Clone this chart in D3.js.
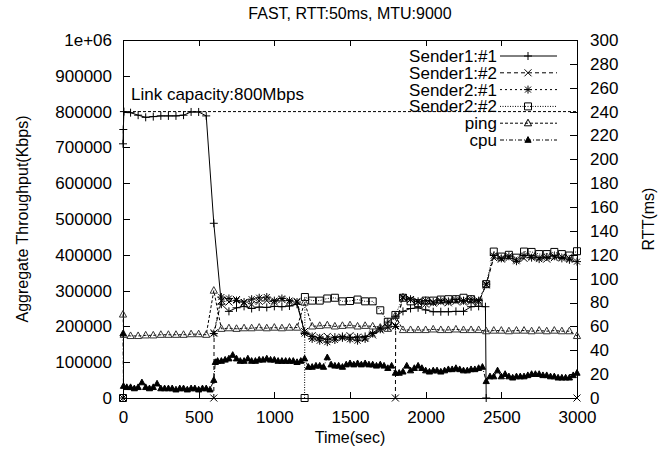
<!DOCTYPE html>
<html>
<head>
<meta charset="utf-8">
<script src="https://cdn.jsdelivr.net/npm/d3@7"></script>
<style>
  body { margin: 0; background: #fff; }
  svg { display: block; font-family: "Liberation Sans", Arial, sans-serif; }
  text { fill: #000; }
</style>
</head>
<body>
<svg id="chart" width="667" height="453"></svg>
<script>
// values; null = break in the data (no connecting line)
var sender11 = [[0,710000],[2,750000],[6,800000],[50,797000],[100,790000],[150,784000],[200,786000],[250,788000],[300,788000],[350,788000],[400,790000],[450,799000],[500,799000],[550,788000],[600,488000],[650,262000],[700,242000],[750,252000],[800,256000],[850,250000],[900,254000],[950,253000],[1000,256000],[1050,255000],[1100,257000],[1150,262000],[1200,184000],[1250,172000],[1300,168000],[1350,164000],[1400,170000],[1450,172000],[1500,168000],[1550,170000],[1600,172000],[1650,182000],[1700,195000],[1750,212000],[1800,228000],[1850,242000],[1900,250000],[1950,252000],[2000,246000],[2050,241000],[2100,241000],[2150,241000],[2200,242000],[2250,242000],[2300,255000],[2350,256000],[2395,255000],[2400,0]];
var sender12 = [[600,0],[602,182000],[650,272000],[700,268000],[750,275000],[800,266000],[850,262000],[900,270000],[950,272000],[1000,268000],[1050,275000],[1100,268000],[1150,270000],[1200,186000],[1250,174000],[1300,170000],[1350,172000],[1400,168000],[1450,170000],[1500,174000],[1550,170000],[1600,168000],[1650,176000],[1700,190000],[1750,198000],null,[1800,0],[1802,202000],[1850,280000],[1900,275000],[1950,268000],[2000,262000],[2050,265000],[2100,268000],[2150,266000],[2200,270000],[2250,268000],[2300,270000],[2350,268000],[2400,316000],[2450,392000],[2500,388000],[2550,392000],[2600,386000],[2650,390000],[2700,396000],[2750,392000],[2800,388000],[2850,392000],[2900,394000],[2950,390000],null,[3000,0]];
var sender21 = [[0,0],null,[600,180000],[650,282000],[700,278000],[750,272000],[800,268000],[850,276000],[900,280000],[950,282000],[1000,272000],[1050,278000],[1100,272000],[1150,268000],[1200,180000],[1250,165000],[1300,160000],[1350,156000],[1400,162000],[1450,168000],[1500,164000],[1550,160000],[1600,165000],[1650,180000],[1700,192000],[1750,198000],[1800,200000],[1850,282000],[1900,276000],[1950,270000],[2000,272000],[2050,268000],[2100,272000],[2150,270000],[2200,275000],[2250,272000],[2300,276000],[2350,272000],[2400,318000],[2450,398000],[2500,390000],[2550,396000],[2600,382000],[2650,398000],[2700,392000],[2750,388000],[2800,394000],[2850,396000],[2900,390000],[2950,386000],[3000,381000]];
var sender22 = [[0,0],null,[1200,0],[1202,282000],[1250,272000],[1300,272000],[1350,278000],[1400,280000],[1450,270000],[1500,271000],[1550,275000],[1600,270000],[1650,270000],[1700,245000],[1750,213000],[1800,232000],[1850,280000],[1900,270000],[1950,265000],[2000,272000],[2050,272000],[2100,275000],[2150,276000],[2200,276000],[2250,280000],[2300,276000],[2350,266000],[2400,318000],[2450,409000],[2500,395000],[2550,400000],[2600,392000],[2650,409000],[2700,408000],[2750,402000],[2800,402000],[2850,408000],[2900,402000],[2950,398000],[3000,410000]];
// RTT axis (ms)
var ping = [[0,70],[5,53],[50,52],[100,52],[150,52.5],[200,52.5],[250,53],[300,53],[350,53],[400,53],[450,53.5],[500,53.5],[550,53],[600,90],[650,58],[700,58.5],[750,58],[800,58.5],[850,58.5],[900,59],[950,58.5],[1000,59],[1050,58.5],[1100,59],[1150,59],[1200,80],[1250,60],[1300,60.5],[1350,61],[1400,60],[1450,60.5],[1500,61],[1550,60],[1600,60.5],[1650,60],[1700,59],[1750,58],[1800,69],[1850,57],[1900,57],[1950,57],[2000,57],[2050,57.5],[2100,57],[2150,57],[2200,57.5],[2250,57],[2300,57],[2350,57],[2400,56],[2450,56.5],[2500,56.5],[2550,56],[2600,56.5],[2650,56.5],[2700,56],[2750,56.5],[2800,56],[2850,56.5],[2900,56],[2950,56],[3000,52]];
var cpu = [[0,54],[3,10],[25,9],[50,9],[75,8],[100,9],[125,13],[150,9],[175,8],[200,9],[225,12],[250,8],[275,8],[300,8],[325,8],[350,7],[375,8],[400,8],[425,7],[450,8],[475,8],[500,7],[525,8],[550,8],[575,7],[600,15],[610,30],[625,31],[650,31],[675,32],[700,33],[725,36],[750,33],[775,31],[800,31],[825,33],[850,31],[875,31],[900,32],[925,32],[950,33],[975,32],[1000,32],[1025,31],[1050,31],[1075,31],[1100,31],[1125,31],[1150,30],[1175,31],[1200,33],[1225,26],[1250,26],[1275,27],[1300,27],[1325,26],[1350,34],[1375,28],[1400,27],[1425,27],[1450,26],[1475,28],[1500,29],[1525,28],[1550,29],[1575,28],[1600,29],[1625,28],[1650,28],[1675,27],[1700,28],[1725,27],[1750,25],[1775,27],[1800,21],[1825,21],[1850,22],[1875,27],[1900,23],[1925,25],[1950,27],[1975,25],[2000,23],[2025,22],[2050,23],[2075,23],[2100,22],[2125,23],[2150,24],[2175,24],[2200,25],[2225,24],[2250,23],[2275,23],[2300,24],[2325,24],[2350,25],[2375,26],[2400,14],[2425,18],[2450,18],[2475,23],[2500,18],[2525,20],[2550,18],[2575,17],[2600,18],[2625,18],[2650,18],[2675,19],[2700,20],[2725,20],[2750,20],[2775,19],[2800,19],[2825,18],[2850,18],[2875,17],[2900,17],[2925,17],[2950,17],[2975,19],[3000,21]];

var linkCapacity = 800000;
var xTicks = [0, 500, 1000, 1500, 2000, 2500, 3000];
var yTicks = [0, 100000, 200000, 300000, 400000, 500000, 600000, 700000, 800000, 900000, 1000000];
var y2Ticks = [0, 20, 40, 60, 80, 100, 120, 140, 160, 180, 200, 220, 240, 260, 280, 300];

(function() {
  var svg = d3.select('#chart');
  var pl = 123, pr = 577, pt = 40, pb = 398;
  var fs = 17;

  var x = d3.scaleLinear().domain([0, 3000]).range([pl, pr]);
  var y = d3.scaleLinear().domain([0, 1000000]).range([pb, pt]);
  var y2 = d3.scaleLinear().domain([0, 300]).range([pb, pt]);

  // marker shapes (gnuplot style)
  var marks = {
    plus: 'M-4,0H4M0,-4V4',
    cross: 'M-3.5,-3.5L3.5,3.5M-3.5,3.5L3.5,-3.5',
    star: 'M-4,0H4M0,-4V4M-3,-3L3,3M-3,3L3,-3',
    box: 'M-3.5,-3.5H3.5V3.5H-3.5Z',
    tri: 'M0,-4L3.6,2.6H-3.6Z',
    ftri: 'M0,-3.4L3.1,2.3H-3.1Z'
  };

  var series = [
    { name: 'Sender1:#1', data: sender11, axis: y, dash: null, mark: 'plus' },
    { name: 'Sender1:#2', data: sender12, axis: y, dash: '4,3', mark: 'cross' },
    { name: 'Sender2:#1', data: sender21, axis: y, dash: '2,3', mark: 'star' },
    { name: 'Sender2:#2', data: sender22, axis: y, dash: '1,1.5', mark: 'box' },
    { name: 'ping', data: ping, axis: y2, dash: '3,2', mark: 'tri' },
    { name: 'cpu', data: cpu, axis: y2, dash: '4,2,1,2', mark: 'ftri' }
  ];

  // axes (ticks point inward, like gnuplot)
  svg.append('g')
    .attr('transform', 'translate(' + pl + ',0)')
    .call(d3.axisLeft(y).tickValues(yTicks).tickSize(-7).tickSizeOuter(0).tickPadding(11)
      .tickFormat(function(d) { return d === 1000000 ? '1e+06' : String(d); }));
  svg.append('g')
    .attr('transform', 'translate(' + pr + ',0)')
    .call(d3.axisRight(y2).tickValues(y2Ticks).tickSize(-7).tickSizeOuter(0).tickPadding(13)
      .tickFormat(String));
  svg.append('g')
    .attr('transform', 'translate(0,' + pb + ')')
    .call(d3.axisBottom(x).tickValues(xTicks).tickSize(-6).tickSizeOuter(0).tickPadding(13)
      .tickFormat(String));
  svg.append('g')
    .attr('transform', 'translate(0,' + pt + ')')
    .call(d3.axisTop(x).tickValues(xTicks).tickSize(-6).tickSizeOuter(0).tickFormat(''));

  svg.selectAll('.domain').remove();
  svg.selectAll('.tick line').attr('stroke', '#000').attr('shape-rendering', 'crispEdges');
  svg.selectAll('.tick text').attr('font-size', fs).attr('font-family', '"Liberation Sans", Arial, sans-serif').attr('fill', '#000');

  svg.append('rect')
    .attr('x', pl).attr('y', pt)
    .attr('width', pr - pl).attr('height', pb - pt)
    .attr('fill', 'none').attr('stroke', '#000').attr('shape-rendering', 'crispEdges');

  // link capacity line
  svg.append('line')
    .attr('x1', x(0)).attr('x2', x(3000))
    .attr('y1', y(linkCapacity)).attr('y2', y(linkCapacity))
    .attr('stroke', '#000').attr('stroke-dasharray', '3,2');
  svg.append('text')
    .attr('x', 131).attr('y', y(linkCapacity) - 12)
    .attr('font-size', fs)
    .text('Link capacity:800Mbps');

  // data
  series.forEach(function(s) {
    var line = d3.line()
      .defined(function(d) { return d !== null; })
      .x(function(d) { return x(d[0]); })
      .y(function(d) { return s.axis(d[1]); });
    svg.append('path')
      .datum(s.data)
      .attr('d', line)
      .attr('fill', 'none')
      .attr('stroke', '#000')
      .attr('stroke-width', 1)
      .attr('stroke-dasharray', s.dash);
    svg.append('g').selectAll('path')
      .data(s.data.filter(function(d) { return d !== null; }))
      .enter().append('path')
      .attr('transform', function(d) { return 'translate(' + x(d[0]) + ',' + s.axis(d[1]) + ')'; })
      .attr('d', marks[s.mark])
      .attr('fill', s.mark === 'ftri' ? '#000' : 'none')
      .attr('stroke', s.mark === 'tri' ? '#333' : '#000')
      .attr('stroke-width', 1);
  });

  // legend
  var legend = svg.append('g');
  series.forEach(function(s, i) {
    var ly = 56 + i * 16.8;
    legend.append('text')
      .attr('x', 497).attr('y', ly).attr('dy', '0.35em')
      .attr('text-anchor', 'end').attr('font-size', fs)
      .text(s.name);
    legend.append('line')
      .attr('x1', 500).attr('x2', 557).attr('y1', ly).attr('y2', ly)
      .attr('stroke', '#000').attr('stroke-dasharray', s.dash);
    legend.append('path')
      .attr('transform', 'translate(528,' + ly + ')')
      .attr('d', marks[s.mark])
      .attr('fill', s.mark === 'ftri' ? '#000' : 'none')
      .attr('stroke', '#000');
  });

  // titles
  svg.append('text')
    .attr('x', (pl + pr) / 2).attr('y', 19)
    .attr('text-anchor', 'middle').attr('font-size', 16)
    .text('FAST, RTT:50ms, MTU:9000');
  svg.append('text')
    .attr('x', (pl + pr) / 2).attr('y', 443)
    .attr('text-anchor', 'middle').attr('font-size', 16)
    .text('Time(sec)');
  svg.append('text')
    .attr('transform', 'translate(28,' + ((pt + pb) / 2) + ') rotate(-90)')
    .attr('text-anchor', 'middle').attr('font-size', 16)
    .text('Aggregate Throughput(Kbps)');
  svg.append('text')
    .attr('transform', 'translate(654,' + ((pt + pb) / 2) + ') rotate(-90)')
    .attr('text-anchor', 'middle').attr('font-size', 16)
    .text('RTT(ms)');
})();
</script>
</body>
</html>
